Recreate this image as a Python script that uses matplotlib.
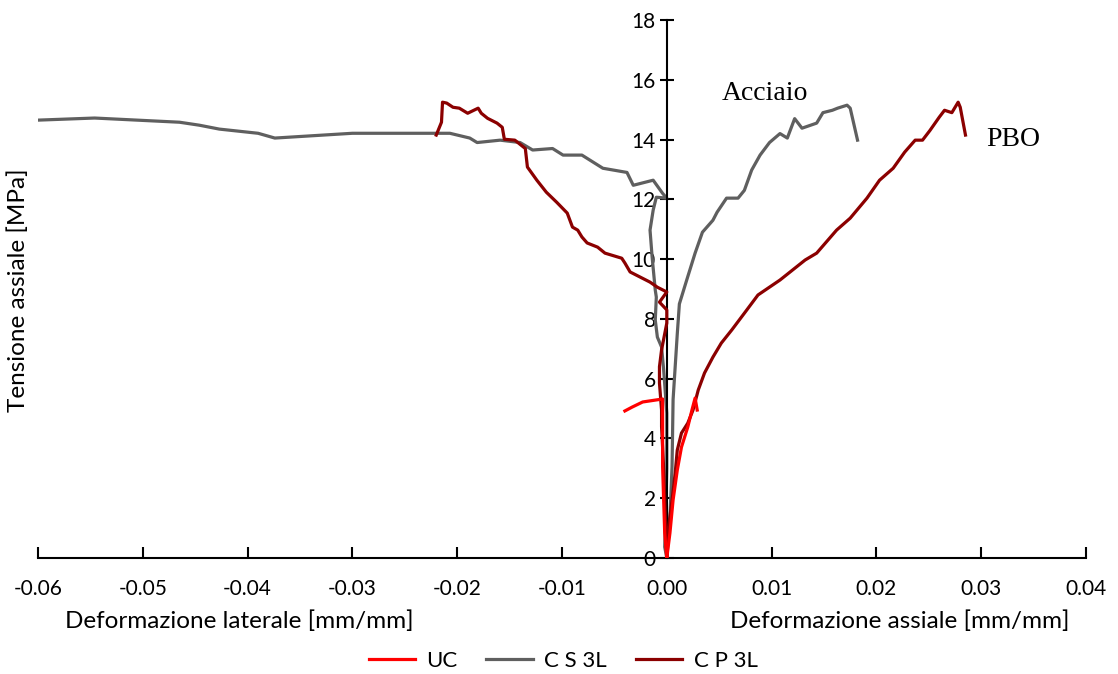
import matplotlib
matplotlib.use("Agg")
import matplotlib.pyplot as plt

# UC
uc_ax_x = [0, 0.0003, 0.0006, 0.0010, 0.0014, 0.0020, 0.0024, 0.0027, 0.0029]
uc_ax_y = [0, 0.84, 1.94, 2.94, 3.71, 4.38, 4.95, 5.35, 4.95]
uc_lat_x = [0, -0.0002, -0.0004, -0.0004, -0.0004, -0.0023, -0.0033, -0.0040]
uc_lat_y = [0, 0.84, 3.05, 5.20, 5.32, 5.22, 5.05, 4.92]

# C S 3L (acciaio)
cs_ax_x = [0, 0.0003, 0.0005, 0.0006, 0.0010, 0.0012, 0.0019, 0.0027, 0.0034,
           0.0044, 0.0048, 0.0057, 0.0068, 0.0074, 0.0081, 0.0089, 0.0098,
           0.0108, 0.0115, 0.0122, 0.0129, 0.0143, 0.0149, 0.0158, 0.0163,
           0.0172, 0.0175, 0.0182]
cs_ax_y = [0, 1.37, 3.05, 5.30, 7.50, 8.50, 9.30, 10.20, 10.90,
           11.30, 11.57, 12.04, 12.04, 12.30, 12.98, 13.48, 13.90,
           14.20, 14.05, 14.70, 14.38, 14.55, 14.90, 14.98, 15.05,
           15.15, 15.05, 13.98]
cs_lat_x = [0, -0.0002, -0.0001, 0, 0, -0.0003, -0.0005, -0.0009, -0.0011,
            -0.0010, -0.0011, -0.0014, -0.0016, -0.0013, -0.0010, 0, -0.0004,
            -0.0013, -0.0032, -0.0038, -0.0061, -0.0081, -0.0099, -0.0109,
            -0.0128, -0.0140, -0.0159, -0.0181, -0.0188, -0.0207, -0.0220,
            -0.0300, -0.0374, -0.0390, -0.0427, -0.0446, -0.0465, -0.0546,
            -0.0600]
cs_lat_y = [0, 0.37, 1.50, 3.00, 4.85, 6.30, 7.06, 7.39, 7.96,
            8.73, 8.96, 10.07, 10.97, 11.64, 12.07, 12.04, 12.20,
            12.64, 12.47, 12.90, 13.04, 13.48, 13.48, 13.70,
            13.65, 13.90, 13.98, 13.90, 14.05, 14.21, 14.21,
            14.21, 14.05, 14.21, 14.35, 14.48, 14.58, 14.72,
            14.65]

# C P 3L (PBO)
cp_ax_x = [0, 0.0001, 0.0005, 0.0008, 0.0010, 0.0014, 0.0020, 0.0025, 0.0030,
           0.0036, 0.0044, 0.0052, 0.0062, 0.0074, 0.0087, 0.0108, 0.0132,
           0.0143, 0.0162, 0.0175, 0.0191, 0.0203, 0.0216, 0.0227, 0.0237,
           0.0244, 0.0251, 0.0260, 0.0265, 0.0272, 0.0278, 0.0280, 0.0285]
cp_ax_y = [0, 0.84, 1.94, 2.84, 3.61, 4.18, 4.51, 4.95, 5.62,
           6.19, 6.72, 7.19, 7.63, 8.19, 8.80, 9.30, 9.97,
           10.20, 10.97, 11.37, 12.04, 12.64, 13.04, 13.58, 13.98,
           13.98, 14.30, 14.75, 14.98, 14.90, 15.25, 15.08, 14.15]
cp_lat_x = [0, -0.0001, -0.0003, -0.0005, -0.0005, -0.0007, -0.0007, -0.0005,
            -0.0002, 0, 0, -0.0007, 0, -0.0009, -0.0016, -0.0035, -0.0040,
            -0.0043, -0.0059, -0.0066, -0.0076, -0.0081, -0.0085, -0.0090,
            -0.0095, -0.0105, -0.0115, -0.0124, -0.0133, -0.0135, -0.0145,
            -0.0155, -0.0157, -0.0162, -0.0171, -0.0177, -0.0180, -0.0190,
            -0.0198, -0.0204, -0.0210, -0.0214, -0.0215, -0.0220]
cp_lat_y = [0, 1.00, 3.00, 4.40, 4.95, 5.85, 6.40, 6.96,
            7.50, 7.86, 8.30, 8.56, 8.90, 9.06, 9.23, 9.57, 9.87,
            10.03, 10.20, 10.40, 10.54, 10.74, 10.97, 11.07,
            11.54, 11.90, 12.24, 12.64, 13.08, 13.70, 13.98,
            14.01, 14.41, 14.55, 14.71, 14.88, 15.05, 14.88,
            15.05, 15.08, 15.22, 15.25, 14.58, 14.15]

xticks = [-0.06, -0.05, -0.04, -0.03, -0.02, -0.01, 0.00, 0.01, 0.02, 0.03, 0.04]
yticks = [0, 2, 4, 6, 8, 10, 12, 14, 16, 18]

plt.rcParams['font.family'] = ['Lato', 'DejaVu Sans']
plt.rcParams['axes.unicode_minus'] = False

fig = plt.figure(figsize=(11.18, 6.74), dpi=100)
ax = fig.add_axes([38 / 1118, 1 - 558 / 674, (1086 - 38) / 1118, (558 - 20) / 674])

lw = 2.3
l_cs, = ax.plot(cs_ax_x, cs_ax_y, color='#5f5f5f', lw=lw, label='C S 3L', zorder=2)
ax.plot(cs_lat_x, cs_lat_y, color='#5f5f5f', lw=lw, zorder=2)
l_cp, = ax.plot(cp_ax_x, cp_ax_y, color='#8b0000', lw=lw, label='C P 3L', zorder=3)
ax.plot(cp_lat_x, cp_lat_y, color='#8b0000', lw=lw, zorder=3)
l_uc, = ax.plot(uc_ax_x, uc_ax_y, color='#ff0000', lw=lw, label='UC', zorder=4)
ax.plot(uc_lat_x, uc_lat_y, color='#ff0000', lw=lw, zorder=4)

ax.set_xlim(-0.06, 0.04)
ax.set_ylim(0, 18)
ax.set_xticks(xticks)
ax.set_xticklabels(['%.2f' % v for v in xticks])
ax.set_yticks(yticks)

ax.spines['top'].set_visible(False)
ax.spines['right'].set_visible(False)
ax.spines['left'].set_position(('data', 0))
ax.spines['left'].set_linewidth(1.5)
ax.spines['bottom'].set_linewidth(1.5)
ax.tick_params(axis='x', direction='in', length=8, width=1.5, pad=15, labelsize=15)
ax.tick_params(axis='y', direction='inout', length=10, width=1.5, pad=3, labelsize=15)

fig.text(18 / 1118, 1 - 290 / 674, 'Tensione assiale [MPa]', rotation=90,
         ha='center', va='center', fontsize=17.5)
fig.text(239 / 1118, 1 - 621 / 674, 'Deformazione laterale [mm/mm]',
         ha='center', va='center', fontsize=17.5)
fig.text(900 / 1118, 1 - 621 / 674, 'Deformazione assiale [mm/mm]',
         ha='center', va='center', fontsize=17.5)

ax.text(0.0094, 15.55, 'Acciaio', family='Liberation Serif', fontsize=20,
        ha='center', va='center')
ax.text(0.0331, 14.0, 'PBO', family='Liberation Serif', fontsize=20,
        ha='center', va='center')

fig.legend([l_uc, l_cs, l_cp], ['UC', 'C S 3L', 'C P 3L'], loc='center',
           bbox_to_anchor=(563 / 1118, 1 - 661 / 674), ncol=3, frameon=False,
           fontsize=16, handlelength=2.1, columnspacing=1.3, handletextpad=0.5)

fig.savefig('out.png', dpi=100)
